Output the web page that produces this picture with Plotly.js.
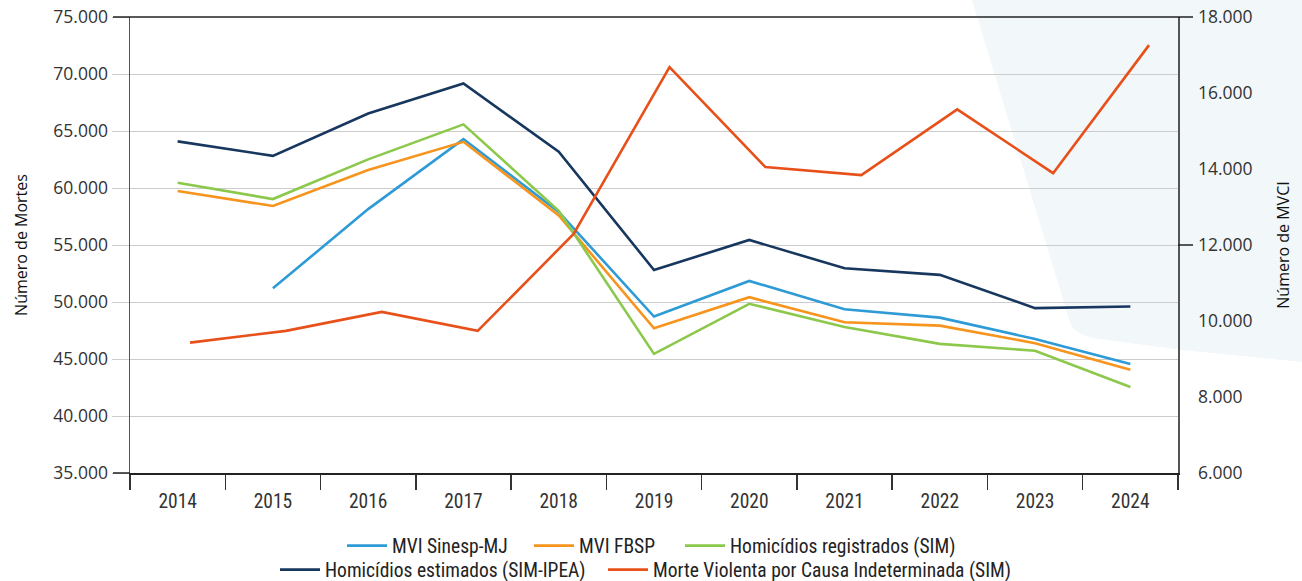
<!DOCTYPE html>
<html>
<head>
<meta charset="utf-8">
<script src="https://cdn.plot.ly/plotly-3.0.1.min.js"></script>
<style>
html,body{margin:0;padding:0;background:#fff;}
#chart{width:1302px;height:581px;}
</style>
</head>
<body>
<div id="chart"></div>
<script>
const years = ['2014','2015','2016','2017','2018','2019','2020','2021','2022','2023','2024'];
const mviSinesp = [null, 51200, 58150, 64290, 57900, 48720, 51850, 49370, 48630, 46750, 44560];
const mviFbsp = [59740, 58420, 61570, 64050, 57600, 47700, 50420, 48230, 47930, 46390, 44050];
const homRegistrados = [60460, 59030, 62510, 65580, 58000, 45450, 49840, 47800, 46330, 45720, 42540];
const homEstimados = [64090, 62820, 66540, 69170, 63180, 52810, 55440, 52960, 52380, 49460, 49600];
const mvci = [9430, 9740, 10240, 9740, 12290, 16680, 14050, 13840, 15570, 13890, 17260];

const names = ['MVI Sinesp-MJ','MVI FBSP','Homicídios registrados (SIM)','Homicídios estimados (SIM-IPEA)','Morte Violenta por Causa Indeterminada (SIM)'];
const colors = ['#2E9BD6','#F7941D','#8CC84B','#17375E','#E8501A'];

const lw = 2.6;
const traces = [
  {x: years, y: mviSinesp, name: names[0], type:'scatter', mode:'lines', line:{color:colors[0], width:lw}, legend:'legend'},
  {x: years, y: mviFbsp, name: names[1], type:'scatter', mode:'lines', line:{color:colors[1], width:lw}, legend:'legend2'},
  {x: years, y: homRegistrados, name: names[2], type:'scatter', mode:'lines', line:{color:colors[2], width:lw}, legend:'legend3'},
  {x: years, y: homEstimados, name: names[3], type:'scatter', mode:'lines', line:{color:colors[3], width:lw}, legend:'legend4'},
  {x: years, y: mvci, name: names[4], type:'scatter', mode:'lines', line:{color:colors[4], width:lw}, xaxis:'x2', yaxis:'y2', legend:'legend5'}
];

const tickFont = {family:'"Open Sans", "Noto Sans", sans-serif', size:17.5, color:'#333'};
const xTickFont = {family:'"Liberation Sans Narrow", "Roboto Condensed", Roboto, sans-serif', size:19.5, color:'#333'};
const legendFont = {family:'"Liberation Sans Narrow", "Roboto Condensed", Roboto, sans-serif', size:19.5, color:'#222'};

const PW = 1048;
const PL = 130;
function legendAt(px, row){
  return {orientation:'h', x:(px - 8 - PL)/PW, xanchor:'left', y: row === 0 ? -0.16 : -0.2127, yanchor:'middle',
          font:legendFont, bgcolor:'rgba(0,0,0,0)', itemwidth:40};
}

const layout = {
  width:1302, height:581,
  margin:{l:130, r:124, t:17, b:108, autoexpand:false},
  paper_bgcolor:'#ffffff',
  plot_bgcolor:'rgba(0,0,0,0)',
  separators:',.',
  showlegend:true,
  xaxis:{
    type:'category', categoryorder:'array', categoryarray:years,
    range:[-0.5, 10.5],
    tickson:'boundaries', ticks:'outside', ticklen:15, tickwidth:1.5, tickcolor:'#333',
    ticklabelstandoff:10,
    showline:true, linecolor:'#222', linewidth:1.5,
    showgrid:false, zeroline:false, automargin:false,
    tickfont:xTickFont, fixedrange:true
  },
  xaxis2:{
    type:'category', categoryorder:'array', categoryarray:years,
    overlaying:'x', range:[-0.6257, 10.302], visible:false, showgrid:false, fixedrange:true
  },
  yaxis:{
    range:[35000, 75000], dtick:5000, tickformat:',d',
    ticks:'outside', ticklen:17, tickcolor:'#cccccc', tickwidth:1,
    showgrid:true, gridcolor:'#cccccc', gridwidth:1,
    showline:true, linecolor:'#555', linewidth:1.5,
    zeroline:false, tickfont:tickFont, automargin:false,
    title:{text:'Número de Mortes', font:{family:'"Open Sans", "Noto Sans", sans-serif', size:16, color:'#111'}, standoff:22},
    fixedrange:true
  },
  yaxis2:{
    range:[6000, 18000], dtick:2000, tickformat:',d',
    overlaying:'y', side:'right',
    ticks:'outside', ticklen:15, tickcolor:'rgba(0,0,0,0)',
    showgrid:false, zeroline:false, automargin:false,
    showline:true, linecolor:'#555', linewidth:1.5,
    tickfont:tickFont,
    title:{text:'Número de MVCI', font:{family:'"Open Sans", "Noto Sans", sans-serif', size:16, color:'#111'}, standoff:26},
    fixedrange:true
  },
  legend: legendAt(350, 0),
  legend2: legendAt(537, 0),
  legend3: legendAt(688, 0),
  legend4: legendAt(283, 1),
  legend5: legendAt(611, 1),
  shapes:[
    {type:'path', xref:'paper', yref:'paper', layer:'below',
     path:'M 0.8034,1.0373 L 1.1183,1.0373 L 1.1183,0.2434 L 1.0048,0.2697 L 0.93,0.292 Q 0.902,0.298 0.897,0.33 Z',
     fillcolor:'#f2f7fa', line:{width:0}},
    {type:'line', xref:'paper', yref:'paper', x0:-17/PW, x1:1+15/PW, y0:1, y1:1, line:{color:'#222', width:1.5}},
    {type:'line', xref:'paper', yref:'paper', x0:-17/PW, x1:0, y0:0, y1:0, line:{color:'#222', width:1.5}},
    {type:'line', xref:'paper', yref:'y2', x0:1, x1:1+15/PW, y0:12000, y1:12000, line:{color:'#222', width:1.5}}
  ]
};

Plotly.newPlot('chart', traces, layout, {displayModeBar:false, staticPlot:true});
</script>
</body>
</html>
